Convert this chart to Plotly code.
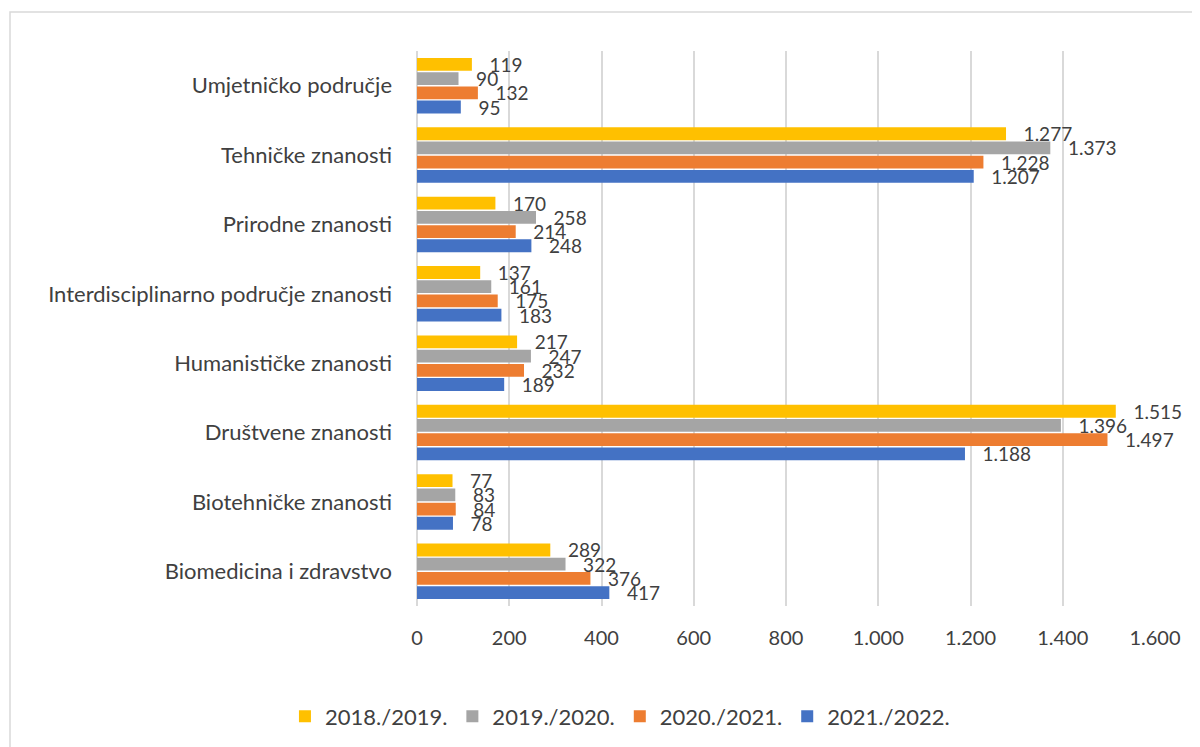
import plotly.graph_objects as go

categories = [
    "Biomedicina i zdravstvo",
    "Biotehničke znanosti",
    "Društvene znanosti",
    "Humanističke znanosti",
    "Interdisciplinarno područje znanosti",
    "Prirodne znanosti",
    "Tehničke znanosti",
    "Umjetničko područje",
]

y2018 = [289, 77, 1515, 217, 137, 170, 1277, 119]
y2019 = [322, 83, 1396, 247, 161, 258, 1373, 90]
y2020 = [376, 84, 1497, 232, 175, 214, 1228, 132]
y2021 = [417, 78, 1188, 189, 183, 248, 1207, 95]

x_ticks = [0, 200, 400, 600, 800, 1000, 1200, 1400, 1600]

# blue at the bottom of each group, yellow on top
series = [
    ("2021./2022.", y2021, "#4472C4"),
    ("2020./2021.", y2020, "#ED7D31"),
    ("2019./2020.", y2019, "#A5A5A5"),
    ("2018./2019.", y2018, "#FFC000"),
]

fig = go.Figure()
for name, vals, col in series:
    fig.add_trace(go.Bar(
        y=categories,
        x=vals,
        name=name,
        orientation="h",
        marker=dict(color=col, line=dict(width=0)),
        text=vals,
        texttemplate="   %{x:,d}",
        textposition="outside",
        textfont=dict(size=19, color="#404040"),
        cliponaxis=False,
    ))

fig.update_layout(
    width=1200,
    height=747,
    barmode="group",
    bargap=0.18,
    bargroupgap=0.1,
    separators=",.",
    uniformtext=dict(minsize=19, mode="show"),
    font=dict(family="Lato, Open Sans, sans-serif", size=20, color="#404040"),
    plot_bgcolor="white",
    paper_bgcolor="white",
    # the page body adds 8px on the left and top
    margin=dict(l=409, r=53, t=43, b=149),
    showlegend=True,
    legend=dict(
        orientation="h",
        x=0.275,
        xanchor="center",
        y=-0.199,
        yanchor="middle",
        traceorder="reversed",
        font=dict(size=22, color="#404040"),
    ),
    xaxis=dict(
        range=[0, 1600],
        tickvals=x_ticks,
        tickformat=",d",
        tickfont=dict(size=20),
        showgrid=True,
        gridcolor="#D9D9D9",
        gridwidth=1.5,
        zeroline=True,
        zerolinecolor="#D9D9D9",
        zerolinewidth=1.5,
        ticks="",
        ticklabelstandoff=18,
        automargin=False,
    ),
    yaxis=dict(
        showgrid=False,
        ticks="",
        tickfont=dict(size=22),
        ticklabelstandoff=24,
        automargin=False,
    ),
    shapes=[dict(
        type="rect", xref="paper", yref="paper",
        x0=-0.5515, x1=1.1, y0=-0.35, y1=1.0703,
        line=dict(color="#D9D9D9", width=1.5),
    )],
)

fig.write_html("out.html")
